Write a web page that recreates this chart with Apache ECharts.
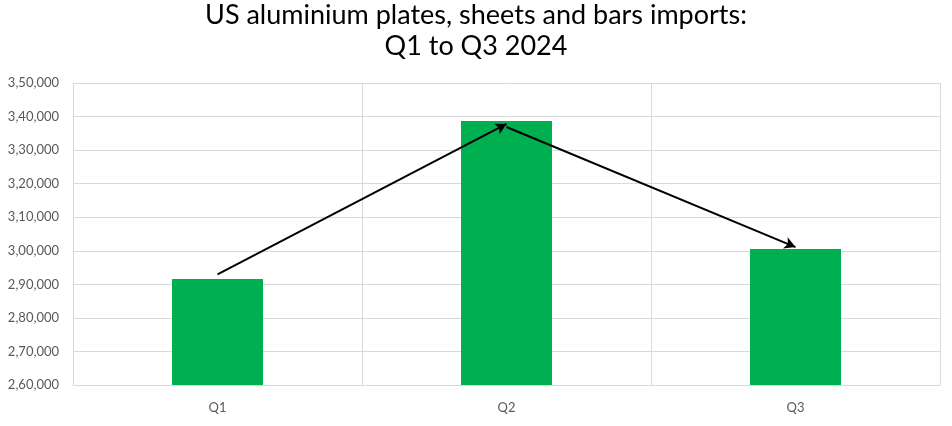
<!DOCTYPE html>
<html><head><meta charset="utf-8">
<script src="https://cdn.jsdelivr.net/npm/echarts@6/dist/echarts.min.js"></script>
<style>html,body{margin:0;padding:0;background:#fff}#c{width:952px;height:426px}</style>
</head><body><div id="c"></div>
<script>
const categories = ['Q1', 'Q2', 'Q3'];
const imports = [291600, 338700, 300500];
const yTicks = [260000, 270000, 280000, 290000, 300000, 310000, 320000, 330000, 340000, 350000];
// arrow annotation endpoints [fromCategory, fromValue, toCategory, toValue]
const arrows = [
  ['Q1', 293000, 'Q2', 337800],
  ['Q2', 336900, 'Q3', 301100]
];

function indianFormat(v) {
  const s = String(Math.round(v));
  if (s.length <= 3) return s;
  const last3 = s.slice(-3);
  let rest = s.slice(0, -3);
  const parts = [];
  while (rest.length > 2) { parts.unshift(rest.slice(-2)); rest = rest.slice(0, -2); }
  if (rest) parts.unshift(rest);
  return parts.join(',') + ',' + last3;
}

const chart = echarts.init(document.getElementById('c'), null, {renderer: 'canvas'});
chart.setOption({
  animation: false,
  title: {
    text: 'US aluminium plates, sheets and bars imports:\nQ1 to Q3 2024',
    left: 'center', top: 0, padding: 0,
    textStyle: {fontFamily: 'Lato', fontSize: 27, fontWeight: 'normal', color: '#000', lineHeight: 31}
  },
  grid: {left: 73, right: 12, top: 83, bottom: 41, containLabel: false},
  xAxis: {
    type: 'category', data: categories, boundaryGap: true,
    axisLine: {show: true, lineStyle: {color: '#d9d9d9'}},
    axisTick: {show: false},
    axisLabel: {color: '#595959', fontSize: 13, fontFamily: 'Lato', margin: 16},
    splitLine: {show: true, lineStyle: {color: '#d9d9d9', width: 1}}
  },
  yAxis: {
    type: 'value', min: yTicks[0], max: yTicks[yTicks.length - 1], interval: 10000,
    axisLine: {show: true, lineStyle: {color: '#d9d9d9'}},
    axisTick: {show: false},
    axisLabel: {color: '#595959', fontSize: 13, fontFamily: 'Lato', margin: 14, formatter: indianFormat},
    splitLine: {show: true, lineStyle: {color: '#d9d9d9', width: 1}}
  },
  series: [{
    type: 'bar', data: imports, barWidth: 91,
    itemStyle: {color: '#00b050'},
    markLine: {
      silent: true,
      symbol: ['none', 'arrow'], symbolSize: [9, 11],
      label: {show: false},
      lineStyle: {color: '#000', width: 2, type: 'solid'},
      data: arrows.map(a => [{coord: [a[0], a[1]]}, {coord: [a[2], a[3]]}])
    }
  }]
});
</script></body></html>
